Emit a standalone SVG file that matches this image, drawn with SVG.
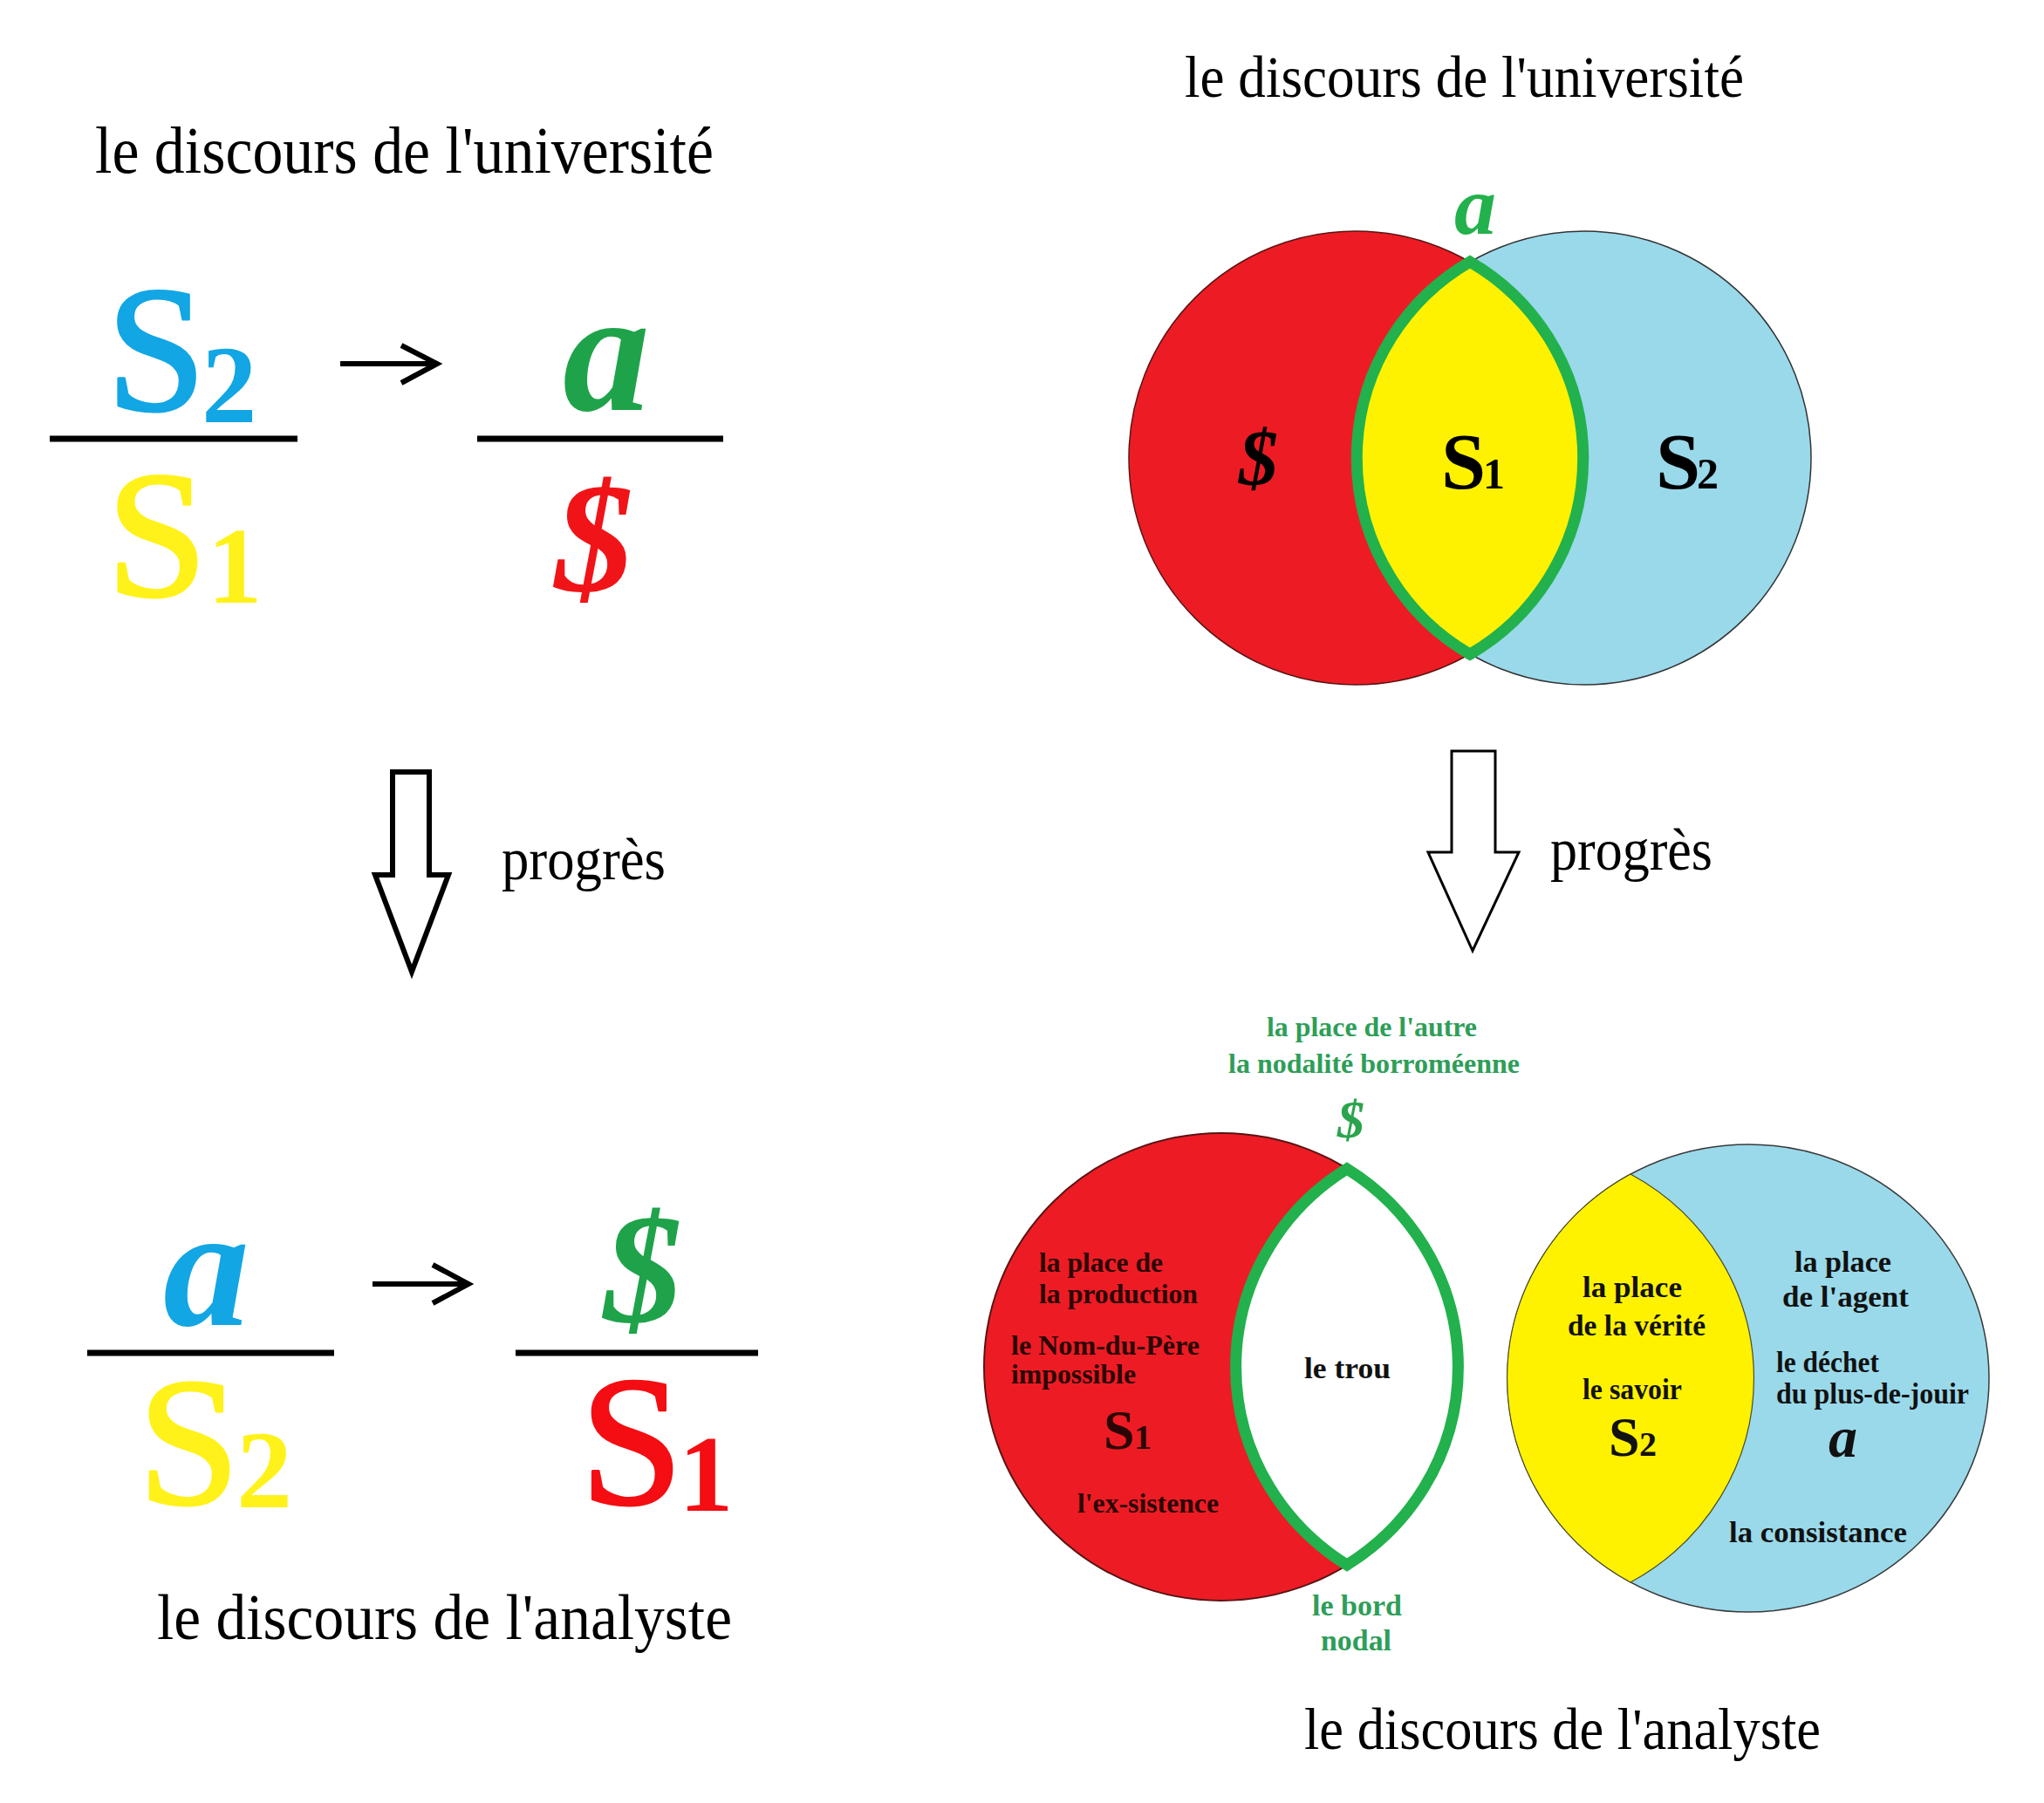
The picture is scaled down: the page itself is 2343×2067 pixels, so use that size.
<svg xmlns="http://www.w3.org/2000/svg" width="2343" height="2067" viewBox="0 0 2343 2067">
<style>
text{font-family:"Liberation Serif","Times New Roman",serif;}
.t{fill:#000;}
.b{font-weight:bold;}
.bi{font-weight:bold;font-style:italic;}
.big{stroke-width:3;stroke-linejoin:round;}
.sub{font-weight:bold;}
.bar{stroke:#000;stroke-width:7;}
.sm{fill:none;stroke:#000;stroke-width:6;stroke-linecap:butt;stroke-linejoin:miter;}
.blk{fill:#fff;stroke:#000;stroke-linejoin:miter;stroke-miterlimit:10;}
.lens{stroke:#22b14c;stroke-width:13;stroke-linejoin:miter;stroke-miterlimit:10;}
.rl{fill:#2a0505;font-weight:bold;font-size:32px;}
.gl{fill:#2e9e58;font-weight:bold;}
.kl{fill:#111;font-weight:bold;font-size:34px;}
</style>
<rect width="2343" height="2067" fill="#fff"/>

<g id="title-univ-left"><text class="t" x="109" y="198" font-size="76" textLength="709" lengthAdjust="spacingAndGlyphs">le discours de l'université</text></g>

<g id="frac-univ-left">
<text class="big" x="122" y="470" font-size="205" fill="#12a6e4" stroke="#12a6e4">S<tspan class="sub" x="231" y="484" font-size="127" stroke-width="0">2</tspan></text>
<line class="bar" x1="57" y1="503" x2="341" y2="503"/>
<text class="big" x="122" y="683" font-size="208" fill="#fff21a" stroke="#fff21a">S<tspan class="sub" x="238" y="691" font-size="125" stroke-width="0">1</tspan></text>
</g>
<g id="frac-univ-right">
<text class="bi" x="645" y="470" font-size="200" fill="#1fa34a">a</text>
<line class="bar" x1="547" y1="503" x2="829" y2="503"/>
<text class="bi" x="636" y="677" font-size="180" fill="#f01418">$</text>
</g>

<g id="progres-left"><text class="t" x="575" y="1008" font-size="68" textLength="188" lengthAdjust="spacingAndGlyphs">progrès</text></g>

<g id="frac-anal-left">
<text class="bi" x="187" y="1519" font-size="198" fill="#12a6e4">a</text>
<line class="bar" x1="100" y1="1551" x2="383" y2="1551"/>
<text class="big" x="158" y="1724" font-size="210" fill="#fff21a" stroke="#fff21a">S<tspan class="sub" x="271" y="1728" font-size="128" stroke-width="0">2</tspan></text>
</g>
<g id="frac-anal-right">
<text class="bi" x="692" y="1515" font-size="180" fill="#1fa34a">$</text>
<line class="bar" x1="591" y1="1551" x2="869" y2="1551"/>
<text class="big" x="665" y="1724" font-size="212" fill="#f40d12" stroke="#f40d12">S<tspan class="sub" x="778" y="1732" font-size="125" stroke-width="0">1</tspan></text>
</g>

<g id="title-anal-left"><text class="t" x="180" y="1879" font-size="74" textLength="659" lengthAdjust="spacingAndGlyphs">le discours de l'analyste</text></g>

<g id="title-univ-right"><text class="t" x="1358" y="111" font-size="67" textLength="641" lengthAdjust="spacingAndGlyphs">le discours de l'université</text></g>

<g id="venn-univ">
<circle cx="1554" cy="525" r="260" fill="#ed1c24" stroke="#5a1414" stroke-width="1.5"/>
<circle cx="1816" cy="525" r="260" fill="#99d9ea" stroke="#333" stroke-width="1.5"/>
<path class="lens" d="M1685,300 A260,260 0 0 1 1685,750 A260,260 0 0 1 1685,300 Z" fill="#fff200"/>
<text class="bi" x="1667" y="268" font-size="96" fill="#22b14c">a</text>
<text class="bi" x="1420" y="556" font-size="90" fill="#000">$</text>
<text class="b" x="1652" y="560" font-size="92" fill="#000">S<tspan x="1700" font-size="50">1</tspan></text>
<text class="b" x="1898" y="560" font-size="92" fill="#000">S<tspan x="1945" font-size="50">2</tspan></text>
</g>

<g id="progres-right"><text class="t" x="1777" y="997" font-size="68" textLength="186" lengthAdjust="spacingAndGlyphs">progrès</text></g>

<g id="venn-anal-left">
<text class="gl" x="1452" y="1188" font-size="32" textLength="241" lengthAdjust="spacingAndGlyphs">la place de l'autre</text>
<text class="gl" x="1408" y="1230" font-size="32" textLength="334" lengthAdjust="spacingAndGlyphs">la nodalité borroméenne</text>
<text class="bi" x="1533" y="1304" font-size="62" fill="#2ca44e">$</text>
<ellipse cx="1400" cy="1567" rx="272" ry="268" fill="#ed1c24" stroke="#5a1414" stroke-width="2"/>
<path class="lens" d="M1544,1340 A272,268 0 0 1 1544,1794 A272,268 0 0 1 1544,1340 Z" fill="#fff"/>
<text class="rl" x="1191" y="1458" textLength="142" lengthAdjust="spacingAndGlyphs">la place de</text>
<text class="rl" x="1191" y="1494" textLength="182" lengthAdjust="spacingAndGlyphs">la production</text>
<text class="rl" x="1159" y="1553" textLength="216" lengthAdjust="spacingAndGlyphs">le Nom-du-Père</text>
<text class="rl" x="1159" y="1586" textLength="143" lengthAdjust="spacingAndGlyphs">impossible</text>
<text x="1265" y="1661" font-size="64" font-weight="bold" fill="#2a0505">S<tspan x="1300" font-size="40">1</tspan></text>
<text class="rl" x="1235" y="1734" textLength="162" lengthAdjust="spacingAndGlyphs">l'ex-sistence</text>
<text class="kl" x="1495" y="1580" textLength="99" lengthAdjust="spacingAndGlyphs">le trou</text>
<text class="gl" x="1504" y="1852" font-size="34" textLength="103" lengthAdjust="spacingAndGlyphs">le bord</text>
<text class="gl" x="1514" y="1892" font-size="34" textLength="81" lengthAdjust="spacingAndGlyphs">nodal</text>
</g>

<g id="venn-anal-right">
<ellipse cx="2004" cy="1580" rx="276" ry="268" fill="#99d9ea" stroke="#3a3a3a" stroke-width="1.5"/>
<path d="M1869,1346 A276,268 0 0 1 1869,1814 A276,268 0 0 1 1869,1346 Z" fill="#fff200" stroke="#4a4a2a" stroke-width="1.2"/>
<text class="kl" x="1814" y="1487" textLength="114" lengthAdjust="spacingAndGlyphs">la place</text>
<text class="kl" x="1797" y="1531" textLength="158" lengthAdjust="spacingAndGlyphs">de la vérité</text>
<text class="kl" x="1814" y="1604" font-size="33" textLength="114" lengthAdjust="spacingAndGlyphs">le savoir</text>
<text x="1844" y="1669" font-size="64" font-weight="bold" fill="#111">S<tspan x="1879" font-size="40">2</tspan></text>
<text class="kl" x="2057" y="1458" textLength="111" lengthAdjust="spacingAndGlyphs">la place</text>
<text class="kl" x="2043" y="1498" textLength="145" lengthAdjust="spacingAndGlyphs">de l'agent</text>
<text class="kl" x="2036" y="1573" font-size="33" textLength="118" lengthAdjust="spacingAndGlyphs">le déchet</text>
<text class="kl" x="2036" y="1609" font-size="33" textLength="221" lengthAdjust="spacingAndGlyphs">du plus-de-jouir</text>
<text class="bi" x="2096" y="1670" font-size="66" fill="#111">a</text>
<text class="kl" x="1982" y="1768" textLength="204" lengthAdjust="spacingAndGlyphs">la consistance</text>
</g>

<g id="title-anal-right"><text class="t" x="1495" y="2005" font-size="68" textLength="592" lengthAdjust="spacingAndGlyphs">le discours de l'analyste</text></g>

<g id="connectors">
<path class="sm" d="M390,417 H500 M460,396 L501,417 L460,439"/>
<path class="sm" d="M427,1472 H536 M496,1450 L537,1472 L496,1494"/>
<path class="blk" stroke-width="6" d="M450,885 L492,885 L492,1003 L514,1003 L472,1114 L430,1003 L450,1003 Z"/>
<path class="blk" stroke-width="3" d="M1664,861 L1714,861 L1714,977 L1741,977 L1688,1090 L1637,977 L1664,977 Z"/>
</g>
</svg>
